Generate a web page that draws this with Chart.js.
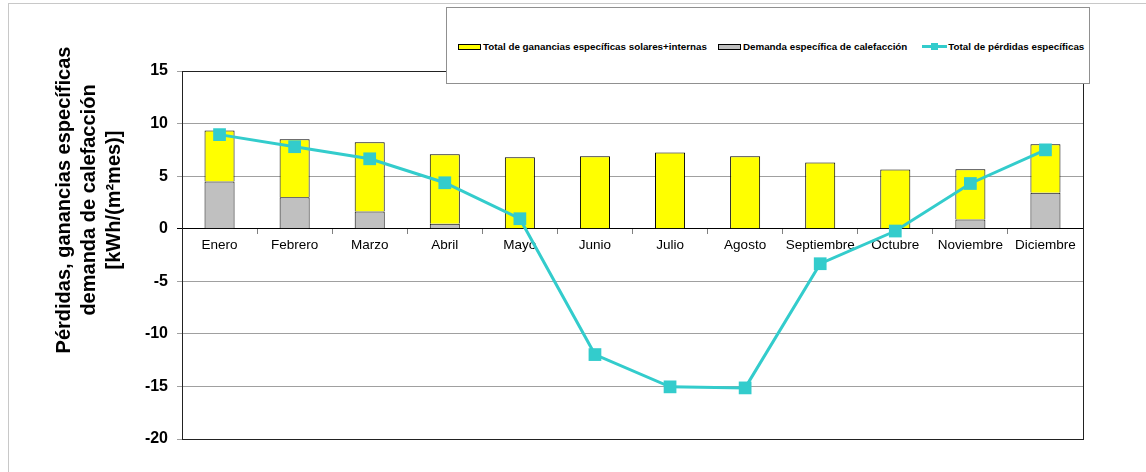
<!DOCTYPE html>
<html lang="es">

<head>
  <meta charset="UTF-8">
  <title>Pérdidas, ganancias y demanda de calefacción</title>
  <script src="https://cdn.jsdelivr.net/npm/chart.js@4.4.1/dist/chart.umd.min.js"></script>
  <style>
  body {
    margin: 0;
    background: #fff;
    font-family: Arial, "Liberation Sans", sans-serif;
  }

  #wrap {
    position: relative;
    width: 1146px;
    height: 472px;
    overflow: hidden;
  }

  #frame {
    position: absolute;
    left: 8px;
    top: 3px;
    width: 1160px;
    height: 500px;
    border: 1px solid #c8c8c8;
  }

  #myChart {
    position: absolute;
    left: 0;
    top: 0;
  }

  #legend {
    position: absolute;
    left: 446px;
    top: 7px;
    width: 644px;
    height: 77px;
    border: 1px solid #909090;
    background: #fff;
    display: flex;
    align-items: center;
    padding-left: 11px;
    padding-top: 2px;
    box-sizing: border-box;
    font-size: 9.8px;
    font-weight: bold;
    color: #000;
  }

  .item {
    display: flex;
    align-items: center;
    margin-right: 11px;
    white-space: nowrap;
  }

  .box {
    width: 21px;
    height: 4px;
    border: 1px solid #000;
    margin-right: 2px;
  }

  .lin {
    position: relative;
    width: 25px;
    height: 3px;
    margin-right: 1px;
    margin-left: 4px;
  }

  .lin i {
    position: absolute;
    left: 9px;
    top: -2px;
    width: 7px;
    height: 7px;
  }
  </style>
</head>

<body>
  <div id="wrap">
    <div id="frame"></div>
    <canvas id="myChart" width="1146" height="472"></canvas>
    <div id="legend"></div>
  </div>

  <script>
    // datos (kWh/(m2mes))
    var meses = ['Enero', 'Febrero', 'Marzo', 'Abril', 'Mayo', 'Junio', 'Julio', 'Agosto', 'Septiembre', 'Octubre', 'Noviembre', 'Diciembre']
    var demanda = [4.49, 3.0, 1.64, 0.47, 0.05, 0, 0, 0, 0, 0, 0.88, 3.42]
    var ganancias = [4.84, 5.51, 6.59, 6.62, 6.75, 6.9, 7.25, 6.9, 6.3, 5.63, 4.78, 4.62]
    var perdidas = [8.95, 7.8, 6.65, 4.37, 0.95, -11.97, -15.04, -15.14, -3.33, -0.22, 4.3, 7.5]
    var yMin = -20
    var yMax = 15
    var yPaso = 5

    var tituloY = ['Pérdidas, ganancias específicas', 'demanda de calefacción', '[kWh/(m²mes)]']

    var colores = {
      ganancias: '#ffff00',
      demanda: '#c0c0c0',
      perdidas: '#33cccc'
    }

    // marco del area de trazado + titulo del eje y
    var extras = {
      id: 'extras',
      beforeDatasetsDraw: function (chart) {
        var a = chart.chartArea
        var ctx = chart.ctx
        ctx.save()
        ctx.strokeStyle = '#222'
        ctx.lineWidth = 1
        ctx.strokeRect(Math.round(a.left) + 0.5, Math.round(a.top) + 0.5, Math.round(a.right - a.left), Math.round(a.bottom - a.top))
        ctx.restore()
      },
      afterDraw: function (chart) {
        var ctx = chart.ctx
        ctx.save()
        ctx.translate(89, 200)
        ctx.rotate(-Math.PI / 2)
        ctx.font = 'bold 20px Arial, "Liberation Sans", sans-serif'
        ctx.fillStyle = '#000'
        ctx.textAlign = 'center'
        ctx.textBaseline = 'middle'
        tituloY.forEach(function (t, i) {
          ctx.fillText(t, 0, (i - 1) * 25)
        })
        ctx.restore()
      }
    }

    var ctx = document.getElementById('myChart').getContext('2d')
    var chart = new Chart(ctx, {
      type: 'bar',
      data: {
        labels: meses,
        datasets: [{
          label: 'Demanda específica de calefacción',
          data: demanda,
          backgroundColor: colores.demanda,
          borderColor: '#000',
          borderWidth: 1,
          stack: 'barras',
          order: 1,
          barPercentage: 0.4,
          categoryPercentage: 1
        }, {
          label: 'Total de ganancias específicas solares+internas',
          data: ganancias,
          backgroundColor: colores.ganancias,
          borderColor: '#000',
          borderWidth: 1,
          stack: 'barras',
          order: 1,
          barPercentage: 0.4,
          categoryPercentage: 1
        }, {
          type: 'line',
          label: 'Total de pérdidas específicas',
          data: perdidas,
          borderColor: colores.perdidas,
          backgroundColor: colores.perdidas,
          borderWidth: 3,
          pointStyle: 'rect',
          pointRadius: 9,
          pointBorderWidth: 0,
          tension: 0,
          stack: 'linea',
          order: 0
        }]
      },
      options: {
        responsive: false,
        animation: false,
        layout: {
          padding: { left: 0, top: 71, right: 63, bottom: 33 }
        },
        plugins: {
          legend: { display: false },
          tooltip: { enabled: false }
        },
        scales: {
          x: {
            stacked: true,
            position: { y: 0 },
            offset: true,
            grid: {
              offset: true,
              drawOnChartArea: false,
              tickLength: 5,
              color: '#808080'
            },
            border: { color: '#000', width: 1 },
            ticks: {
              color: '#000',
              padding: 3,
              maxRotation: 0,
              autoSkip: false,
              font: { family: 'Arial, "Liberation Sans", sans-serif', size: 13.5 }
            }
          },
          y: {
            stacked: true,
            min: yMin,
            max: yMax,
            afterFit: function (s) { s.width = 182 },
            grid: {
              color: function (c) { return c.tick && c.tick.value === 0 ? '#000' : '#a0a0a0' },
              tickLength: 5
            },
            border: { color: '#222' },
            ticks: {
              stepSize: yPaso,
              color: '#000',
              padding: 9,
              font: { family: 'Arial, "Liberation Sans", sans-serif', size: 16, weight: 'bold' }
            }
          }
        }
      },
      plugins: [extras]
    })

    // leyenda en html a partir de los datasets
    var orden = [1, 0, 2]
    var leg = document.getElementById('legend')
    orden.forEach(function (i) {
      var d = chart.data.datasets[i]
      var it = document.createElement('div')
      it.className = 'item'
      var sw = document.createElement('span')
      if (d.type === 'line') {
        sw.className = 'lin'
        sw.style.background = d.borderColor
        var m = document.createElement('i')
        m.style.background = d.borderColor
        sw.appendChild(m)
      } else {
        sw.className = 'box'
        sw.style.background = d.backgroundColor
      }
      it.appendChild(sw)
      it.appendChild(document.createTextNode(d.label))
      leg.appendChild(it)
    })
  </script>
</body>

</html>
